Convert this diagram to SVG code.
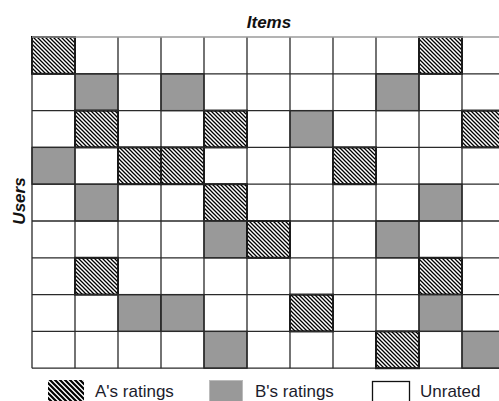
<svg xmlns="http://www.w3.org/2000/svg" width="499" height="401" viewBox="0 0 499 401">
<defs>
  <pattern id="hatch" patternUnits="userSpaceOnUse" width="4" height="4">
    <rect width="4" height="4" fill="#fff"/>
    <path d="M-1,-1 L5,5 M-1,3 L1,5 M3,-1 L5,1" stroke="#000" stroke-width="1.3"/>
  </pattern>
  <pattern id="hatchL" patternUnits="userSpaceOnUse" width="5" height="5">
    <rect width="5" height="5" fill="#fff"/>
    <path d="M-1,-1 L6,6 M-1,4 L1,6 M4,-1 L6,1" stroke="#000" stroke-width="2.2"/>
  </pattern>
  <style>
    .a { fill: url(#hatch); stroke: #000; stroke-width: 2; }
    .b { fill: #999; stroke: #2a2a2a; stroke-width: 1.3; }
    .grid { stroke: #2a2a2a; stroke-width: 1.3; fill: none; }
    .lbl { font-family: "Liberation Sans", Arial, sans-serif; font-size: 17px; fill: #1c1c2c; }
    .ttl { font-family: "Liberation Sans", Arial, sans-serif; font-size: 17px; font-weight: bold; font-style: italic; fill: #111; }
  </style>
</defs>
<rect width="499" height="401" fill="#fff"/>

<g id="cells">
  <rect class="a" x="32" y="37" width="43" height="36.8"/>
  <rect class="a" x="419" y="37" width="43" height="36.8"/>
  <rect class="b" x="75" y="73.8" width="43" height="36.8"/>
  <rect class="b" x="161" y="73.8" width="43" height="36.8"/>
  <rect class="b" x="376" y="73.8" width="43" height="36.8"/>
  <rect class="a" x="75" y="110.6" width="43" height="36.8"/>
  <rect class="a" x="204" y="110.6" width="43" height="36.8"/>
  <rect class="b" x="290" y="110.6" width="43" height="36.8"/>
  <rect class="a" x="462" y="110.6" width="43" height="36.8"/>
  <rect class="b" x="32" y="147.4" width="43" height="36.8"/>
  <rect class="a" x="118" y="147.4" width="43" height="36.8"/>
  <rect class="a" x="161" y="147.4" width="43" height="36.8"/>
  <rect class="a" x="333" y="147.4" width="43" height="36.8"/>
  <rect class="b" x="75" y="184.2" width="43" height="36.8"/>
  <rect class="a" x="204" y="184.2" width="43" height="36.8"/>
  <rect class="b" x="419" y="184.2" width="43" height="36.8"/>
  <rect class="b" x="204" y="221" width="43" height="36.8"/>
  <rect class="a" x="247" y="221" width="43" height="36.8"/>
  <rect class="b" x="376" y="221" width="43" height="36.8"/>
  <rect class="a" x="75" y="257.8" width="43" height="36.8"/>
  <rect class="a" x="419" y="257.8" width="43" height="36.8"/>
  <rect class="b" x="118" y="294.6" width="43" height="36.8"/>
  <rect class="b" x="161" y="294.6" width="43" height="36.8"/>
  <rect class="a" x="290" y="294.6" width="43" height="36.8"/>
  <rect class="b" x="419" y="294.6" width="43" height="36.8"/>
  <rect class="b" x="204" y="331.4" width="43" height="36.8"/>
  <rect class="a" x="376" y="331.4" width="43" height="36.8"/>
  <rect class="b" x="462" y="331.4" width="43" height="36.8"/>
</g>

<g id="grid" class="grid">
  <path d="M32,37 V368.2 M75,37 V368.2 M118,37 V368.2 M161,37 V368.2 M204,37 V368.2 M247,37 V368.2 M290,37 V368.2 M333,37 V368.2 M376,37 V368.2 M419,37 V368.2 M462,37 V368.2"/>
  <path d="M32,73.8 H505 M32,110.6 H505 M32,147.4 H505 M32,184.2 H505 M32,221 H505 M32,257.8 H505 M32,294.6 H505 M32,331.4 H505 M32,368.2 H505"/>
  <path d="M32,37 H505" stroke="#9a9a9a"/>
</g>

<g id="titles">
  <text class="ttl" x="269" y="28" text-anchor="middle">Items</text>
  <text class="ttl" transform="translate(25,201) rotate(-90)" text-anchor="middle">Users</text>
</g>

<g id="legend">
  <g id="legend-a">
    <rect x="48" y="380" width="36" height="24" fill="url(#hatchL)"/>
    <text class="lbl" x="95" y="397">A's ratings</text>
  </g>
  <g id="legend-b">
    <rect x="209.5" y="380.5" width="33" height="24" fill="#999" stroke="#bbb" stroke-width="1"/>
    <text class="lbl" x="255" y="397">B's ratings</text>
  </g>
  <g id="legend-u">
    <rect x="372.5" y="381.5" width="37" height="24" fill="#fff" stroke="#111" stroke-width="1.3"/>
    <text class="lbl" x="420" y="397">Unrated</text>
  </g>
</g>
</svg>
